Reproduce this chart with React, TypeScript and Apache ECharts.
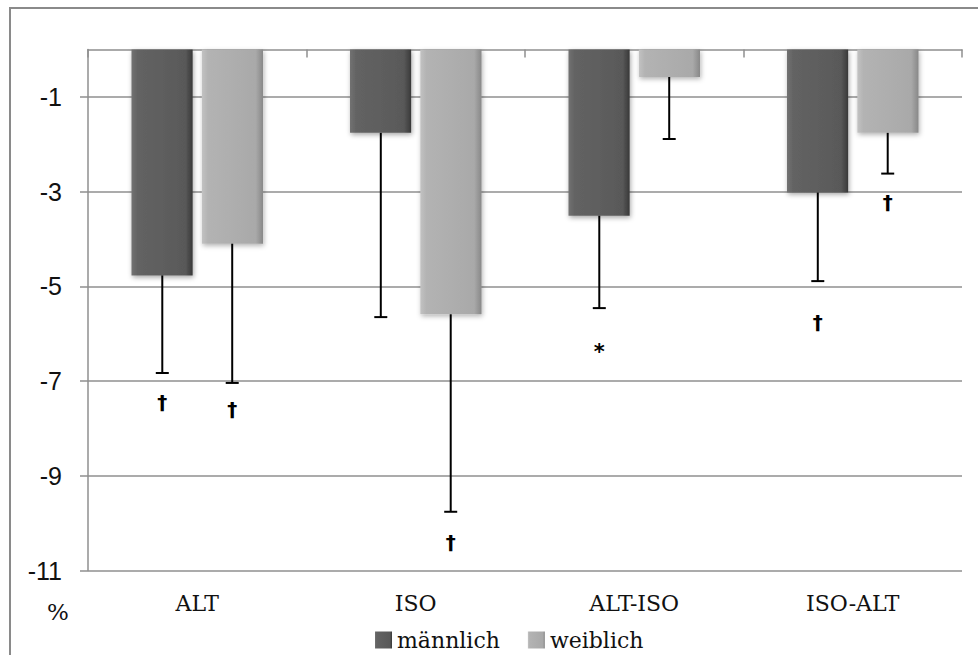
import React, { useEffect, useRef } from "react";
import * as echarts from "echarts";

const categories = ["ALT", "ISO", "ALT-ISO", "ISO-ALT"];
const seriesNames = ["männlich", "weiblich"];
const maleValues = [-4.77, -1.76, -3.51, -3.02];
const femaleValues = [-4.1, -5.59, -0.58, -1.76];
const maleErrorEnd = [-6.83, -5.65, -5.46, -4.89];
const femaleErrorEnd = [-7.04, -9.76, -1.89, -2.62];
const maleMarks = ["†", "", "*", "†"];
const maleMarkPos = [-7.44, NaN, -6.39, -5.76];
const femaleMarks = ["†", "†", "", "†"];
const femaleMarkPos = [-7.59, -10.39, NaN, -3.23];
const yTickValues = [-1, -3, -5, -7, -9, -11];
const yAxisUnit = "%";

const GRID = "#8f8f8f";
const SERIF = "DejaVu Serif";

export default function App() {
  const ref = useRef<HTMLDivElement>(null);
  useEffect(() => {
    if (!ref.current) return;
    const chart = echarts.init(ref.current, null, { renderer: "svg" });

    const errData: number[][] = [];
    categories.forEach((_, i) => errData.push([i, maleValues[i], maleErrorEnd[i], 0]));
    categories.forEach((_, i) => errData.push([i, femaleValues[i], femaleErrorEnd[i], 1]));

    const marks: { i: number; pos: number; side: number; text: string }[] = [];
    categories.forEach((_, i) => {
      if (maleMarks[i]) marks.push({ i, pos: maleMarkPos[i], side: 0, text: maleMarks[i] });
      if (femaleMarks[i]) marks.push({ i, pos: femaleMarkPos[i], side: 1, text: femaleMarks[i] });
    });

    const OFF = 0.16;

    const maleGrad = new echarts.graphic.LinearGradient(0, 0, 1, 0, [
      { offset: 0, color: "#727272" },
      { offset: 0.1, color: "#636363" },
      { offset: 0.88, color: "#595959" },
      { offset: 1, color: "#383838" },
    ]);
    const femaleGrad = new echarts.graphic.LinearGradient(0, 0, 1, 0, [
      { offset: 0, color: "#c2c2c2" },
      { offset: 0.1, color: "#b3b3b3" },
      { offset: 0.88, color: "#a9a9a9" },
      { offset: 1, color: "#888888" },
    ]);

    chart.setOption({
      animation: false,
      backgroundColor: "#ffffff",
      grid: { left: 88, right: 16, top: 49.5, bottom: 84.5, containLabel: false },
      legend: {
        data: seriesNames,
        left: 370,
        top: 624,
        icon: "rect",
        itemWidth: 17,
        itemHeight: 17,
        itemGap: 28,
        textStyle: { fontFamily: SERIF, fontSize: 22, color: "#111" },
      },
      graphic: [
        {
          type: "rect",
          silent: true,
          z: -10,
          shape: { x: 10, y: 8, width: 1100, height: 800 },
          style: { fill: "none", stroke: "#8a8a8a", lineWidth: 2 },
        },
        {
          type: "text",
          left: 47,
          top: 600,
          style: { text: yAxisUnit, fontFamily: SERIF, fontSize: 23, fill: "#111" },
        },
      ],
      xAxis: [
        {
          type: "category",
          data: categories,
          position: "bottom",
          axisLine: { show: false, onZero: false },
          axisTick: { show: false },
          axisLabel: { margin: 22, fontFamily: SERIF, fontSize: 22, color: "#111" },
        },
        {
          type: "category",
          data: categories,
          position: "top",
          axisLine: { show: true, onZero: false, lineStyle: { color: GRID, width: 1.5 } },
          axisTick: { show: true, inside: true, length: 8, lineStyle: { color: GRID, width: 1.5 } },
          axisLabel: { show: false },
        },
      ],
      yAxis: {
        type: "value",
        min: -11,
        max: 0,
        interval: 2,
        axisLine: { show: true, lineStyle: { color: GRID, width: 1.5 } },
        axisTick: { show: true, length: 8, customValues: yTickValues, lineStyle: { color: GRID, width: 1.5 } },
        axisLabel: {
          customValues: yTickValues,
          margin: 26,
          fontFamily: "Liberation Sans",
          fontSize: 25,
          color: "#111",
          formatter: (v: number) => (v === 0 ? "" : String(v)),
        },
        splitLine: { show: true, lineStyle: { color: GRID, width: 1.5 } },
      },
      series: [
        {
          name: seriesNames[0],
          type: "bar",
          xAxisIndex: 0,
          data: maleValues,
          barWidth: "28%",
          barGap: "15%",
          itemStyle: {
            color: maleGrad,
            shadowColor: "rgba(0,0,0,0.35)",
            shadowBlur: 5,
            shadowOffsetX: 1,
            shadowOffsetY: 2,
          },
        },
        {
          name: seriesNames[1],
          type: "bar",
          xAxisIndex: 0,
          data: femaleValues,
          barWidth: "28%",
          barGap: "15%",
          itemStyle: {
            color: femaleGrad,
            shadowColor: "rgba(0,0,0,0.3)",
            shadowBlur: 5,
            shadowOffsetX: 1,
            shadowOffsetY: 2,
          },
        },
        {
          type: "custom",
          xAxisIndex: 0,
          silent: true,
          z: 5,
          data: errData,
          encode: { x: 0, y: [1, 2] },
          renderItem: (params: any, api: any) => {
            const idx = api.value(0);
            const v0 = api.value(1);
            const v1 = api.value(2);
            const side = api.value(3);
            const band = api.size([1, 0])[0];
            const p0 = api.coord([idx, v0]);
            const p1 = api.coord([idx, v1]);
            const x = p0[0] + (side === 0 ? -1 : 1) * band * OFF;
            const st = { stroke: "#000", lineWidth: 2 };
            return {
              type: "group",
              children: [
                { type: "line", shape: { x1: x, y1: p0[1], x2: x, y2: p1[1] }, style: st },
                { type: "line", shape: { x1: x - 6.5, y1: p1[1], x2: x + 6.5, y2: p1[1] }, style: st },
              ],
            };
          },
        },
        {
          type: "custom",
          xAxisIndex: 0,
          silent: true,
          z: 6,
          data: marks.map((m) => [m.i, m.pos, m.side]),
          encode: { x: 0, y: 1 },
          renderItem: (params: any, api: any) => {
            const m = marks[params.dataIndex];
            const band = api.size([1, 0])[0];
            const p = api.coord([api.value(0), api.value(1)]);
            const x = p[0] + (m.side === 0 ? -1 : 1) * band * OFF;
            return {
              type: "text",
              x,
              y: p[1],
              style: {
                text: m.text,
                fontFamily: "DejaVu Sans",
                fontWeight: "bold",
                fontSize: m.text === "*" ? 21 : 20,
                fill: "#000",
                align: "center",
                verticalAlign: "middle",
              },
            };
          },
        },
      ],
    });
    return () => chart.dispose();
  }, []);
  return (
    <div
      ref={ref}
      style={{ position: "absolute", left: 0, top: 0, width: 978, height: 655 }}
    />
  );
}
